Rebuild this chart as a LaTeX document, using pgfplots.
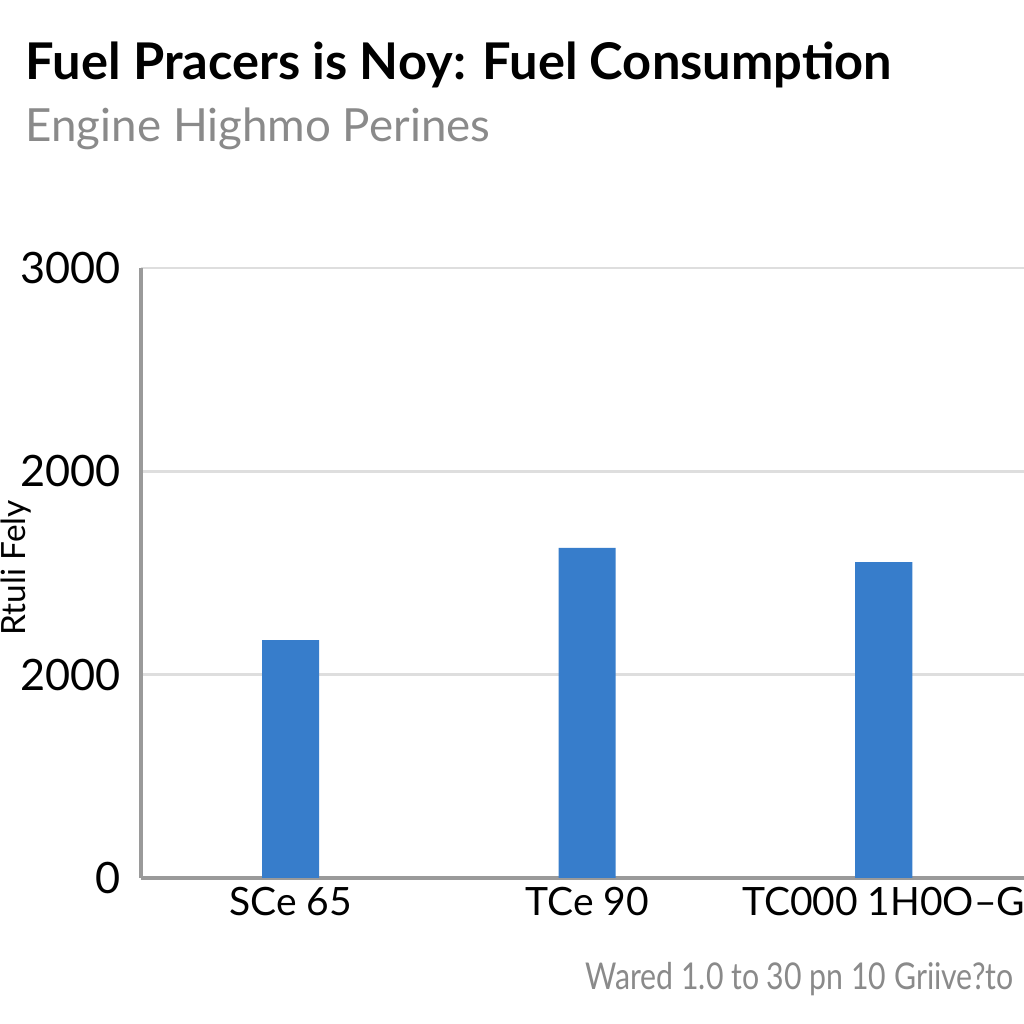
\documentclass[border=0pt]{standalone}
\usepackage{pgfplots}
\pgfplotsset{compat=1.18}
\usepackage{fontspec}
\setmainfont{Lato}
\definecolor{barblue}{HTML}{377DCB}
\definecolor{axgray}{HTML}{9A9A9A}
\definecolor{gridgray}{HTML}{DEDEDE}
\definecolor{subgray}{HTML}{8A8A8A}
\begin{document}
\begin{tikzpicture}
\useasboundingbox (0,0) rectangle (10.24,10.24);
\fill[white] (0,0) rectangle (10.24,10.24);
\node[anchor=base west, inner sep=0pt] at (0.25,9.44) {\fontsize{14.4}{17}\selectfont\bfseries Fuel Pracers is Noy: Fuel Consumption};
\node[anchor=base west, inner sep=0pt, text=subgray] at (0.25,8.82) {\fontsize{13}{15}\selectfont Engine Highmo Perines};
\node[rotate=90, anchor=base, inner sep=0pt] at (0.25,4.56) {\fontsize{9.5}{11}\selectfont Rtuli Fely};
\node[anchor=base west, inner sep=0pt, text=subgray, xscale=0.82] at (5.85,0.34) {\fontsize{10.5}{13}\selectfont Wared 1.0 to 30 pn 10 Griive?to};
\begin{axis}[
  at={(1.41cm,1.46cm)}, anchor=south west,
  scale only axis, width=8.83cm, height=6.10cm,
  xmin=-0.505, xmax=2.473, ymin=0, ymax=3000,
  axis x line*=bottom, axis y line*=left,
  axis line style={axgray, line width=1pt, -},
  ymajorgrids, grid style={gridgray, line width=0.8pt},
  xtick={0,1,2}, xticklabels={SCe 65, TCe 90, TC000 1H0O--G},
  ytick={0,1000,2000,3000}, yticklabels={0,2000,2000,3000},
  major tick length=0pt,
  xticklabel style={font=\fontsize{11.1}{13}\selectfont, anchor=north, yshift=0.3mm},
  yticklabel style={font=\fontsize{12.3}{14}\selectfont, anchor=east, xshift=-0.8mm},
  /pgf/number format/assume math mode=true,
]
\addplot[ybar, bar width=0.57cm, bar shift=0pt, fill=barblue, draw=none] coordinates {(0,1170) (1,1623) (2,1554)};
\end{axis}
\end{tikzpicture}
\end{document}
